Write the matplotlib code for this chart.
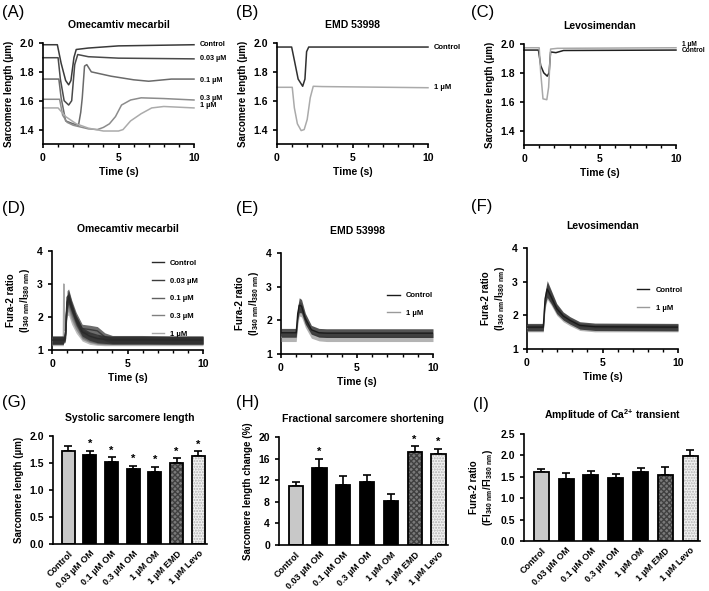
import numpy as np
import matplotlib
matplotlib.use("Agg")
import matplotlib.pyplot as plt
from matplotlib.ticker import MultipleLocator, FormatStrFormatter

plt.rcParams['font.family'] = ['Liberation Sans', 'DejaVu Sans']
plt.rcParams['font.weight'] = 'bold'
plt.rcParams['axes.labelweight'] = 'bold'
plt.rcParams['axes.titleweight'] = 'bold'
plt.rcParams['mathtext.default'] = 'regular'
plt.rcParams['axes.linewidth'] = 1.2
plt.rcParams['xtick.major.width'] = 1.2
plt.rcParams['ytick.major.width'] = 1.2
plt.rcParams['xtick.minor.width'] = 1.0
plt.rcParams['xtick.major.size'] = 3
plt.rcParams['ytick.major.size'] = 3
plt.rcParams['xtick.minor.size'] = 2
plt.rcParams['xtick.labelsize'] = 7.5
plt.rcParams['ytick.labelsize'] = 7.5

# ---- sarcomere length traces (A, B, C) ----
# Omecamtiv mecarbil
t_om_ctrl = [0, 0.95, 1.2, 1.5, 1.7, 1.85, 2.05, 2.2, 3, 5, 10]
y_om_ctrl = [1.988, 1.988, 1.86, 1.74, 1.71, 1.74, 1.90, 1.955, 1.965, 1.98, 1.988]
t_om_003 = [0, 1.0, 1.15, 1.4, 1.7, 1.9, 2.1, 2.3, 3, 5, 10]
y_om_003 = [1.898, 1.898, 1.75, 1.6, 1.57, 1.6, 1.85, 1.92, 1.905, 1.895, 1.89]
t_om_01 = [0, 1.05, 1.2, 1.5, 2.0, 2.35, 2.5, 2.6, 2.75, 2.9, 3.2, 4.5, 6, 7, 8.5, 10]
y_om_01 = [1.75, 1.75, 1.62, 1.46, 1.44, 1.43, 1.52, 1.62, 1.84, 1.85, 1.80, 1.77, 1.745, 1.735, 1.75, 1.75]
t_om_03 = [0, 1.1, 1.3, 1.6, 2.0, 3.0, 3.6, 4.0, 4.4, 4.8, 5.2, 5.8, 6.5, 8, 10]
y_om_03 = [1.61, 1.61, 1.50, 1.45, 1.43, 1.405, 1.40, 1.415, 1.44, 1.49, 1.57, 1.605, 1.62, 1.615, 1.605]
t_om_1 = [0, 1.0, 1.5, 2.2, 3.0, 4.0, 5.0, 5.3, 5.8, 6.5, 7.2, 8, 10]
y_om_1 = [1.55, 1.55, 1.49, 1.44, 1.41, 1.39, 1.39, 1.40, 1.46, 1.51, 1.55, 1.56, 1.55]
om_labels = ['Control', '0.03 µM', '0.1 µM', '0.3 µM', '1 µM']
om_label_y = [1.99, 1.89, 1.74, 1.615, 1.565]

# EMD 53998
t_emd_ctrl = [0, 0.97, 1.15, 1.4, 1.7, 1.85, 1.96, 2.1, 10]
y_emd_ctrl = [1.972, 1.972, 1.88, 1.75, 1.70, 1.75, 1.94, 1.972, 1.972]
t_emd_1 = [0, 1.01, 1.15, 1.35, 1.6, 1.8, 2.0, 2.2, 2.4, 3, 10]
y_emd_1 = [1.693, 1.693, 1.55, 1.44, 1.393, 1.40, 1.47, 1.62, 1.70, 1.698, 1.69]
emd_labels = ['Control', '1 µM']
emd_label_y = [1.972, 1.693]

# Levosimendan
t_lev_ctrl = [0, 0.95, 1.1, 1.3, 1.53, 1.65, 1.75, 2.1, 2.6, 10]
y_lev_ctrl = [1.958, 1.958, 1.85, 1.80, 1.777, 1.80, 1.945, 1.94, 1.955, 1.958]
t_lev_1 = [0, 1.0, 1.1, 1.25, 1.5, 1.62, 1.75, 2.2, 10]
y_lev_1 = [1.974, 1.974, 1.80, 1.62, 1.614, 1.70, 1.965, 1.97, 1.974]
lev_labels = ['1 µM', 'Control']
lev_label_y = [1.997, 1.958]

# ---- Fura-2 traces (D, E, F): mean level and noise half-width ----
t_fd = [0, 0.75, 0.78, 0.82, 0.9, 1.0, 1.1, 1.3, 1.6, 2.0, 2.5, 3.0, 3.5, 4, 6, 8, 10]
fd_ctrl = [1.3, 1.3, 1.3, 1.3, 1.5, 2.45, 2.6, 2.3, 1.9, 1.55, 1.42, 1.35, 1.32, 1.3, 1.3, 1.3, 1.3]
fd_003 = [1.3, 1.3, 1.3, 1.3, 1.6, 2.6, 2.65, 2.35, 2.0, 1.65, 1.62, 1.58, 1.4, 1.32, 1.32, 1.3, 1.3]
fd_01 = [1.3, 1.3, 1.3, 1.3, 1.45, 2.4, 2.5, 2.2, 1.85, 1.5, 1.38, 1.33, 1.3, 1.3, 1.3, 1.3, 1.3]
fd_03 = [1.28, 1.28, 1.28, 1.3, 1.5, 2.3, 2.4, 2.1, 1.75, 1.45, 1.35, 1.3, 1.28, 1.28, 1.28, 1.28, 1.28]
fd_1 = [1.25, 1.25, 3.0, 1.6, 2.0, 2.25, 2.25, 1.95, 1.65, 1.4, 1.3, 1.27, 1.25, 1.25, 1.25, 1.25, 1.25]
fd_noise = [0.12, 0.12, 0.02, 0.1, 0.15, 0.2, 0.2, 0.17, 0.14, 0.13, 0.13, 0.13, 0.12, 0.12, 0.12, 0.12, 0.12]
fd_labels = ['Control', '0.03 µM', '0.1 µM', '0.3 µM', '1 µM']

t_fe = [0, 1.0, 1.1, 1.2, 1.35, 1.6, 2.0, 2.5, 3, 10]
fe_ctrl = [1.63, 1.63, 2.2, 2.45, 2.42, 2.05, 1.72, 1.63, 1.62, 1.62]
fe_1 = [1.5, 1.5, 2.05, 2.35, 2.3, 1.95, 1.6, 1.52, 1.5, 1.5]
fe_noise = [0.13, 0.13, 0.2, 0.22, 0.2, 0.16, 0.13, 0.13, 0.13, 0.13]
fe_labels = ['Control', '1 µM']

t_ff = [0, 1.08, 1.2, 1.34, 1.6, 1.97, 2.4, 2.85, 3.5, 4.5, 10]
ff_ctrl = [1.65, 1.65, 2.5, 2.78, 2.55, 2.2, 1.98, 1.85, 1.7, 1.66, 1.65]
ff_1 = [1.62, 1.62, 2.4, 2.72, 2.5, 2.15, 1.93, 1.8, 1.66, 1.62, 1.62]
ff_noise = [0.11, 0.11, 0.2, 0.25, 0.2, 0.15, 0.12, 0.11, 0.11, 0.11, 0.11]
ff_labels = ['Control', '1 µM']

# ---- summary bars (G, H, I) ----
groups = ['Control', '0.03 µM OM', '0.1 µM OM', '0.3 µM OM', '1 µM OM', '1 µM EMD', '1 µM Levo']
sys_len = [1.73, 1.64, 1.52, 1.38, 1.34, 1.50, 1.63]
sys_err = [0.09, 0.09, 0.09, 0.07, 0.09, 0.09, 0.09]
sys_star = [False, True, True, True, True, True, True]
frac_short = [11.0, 14.3, 11.1, 11.6, 8.1, 17.2, 16.9]
frac_err = [0.7, 1.7, 1.6, 1.4, 1.3, 1.1, 0.9]
frac_star = [False, True, False, False, False, True, True]
ca_amp = [1.61, 1.44, 1.55, 1.48, 1.61, 1.55, 1.99]
ca_err = [0.07, 0.15, 0.09, 0.09, 0.09, 0.17, 0.13]
ca_star = [False] * 7

W, H = 709, 591
fig = plt.figure(figsize=(W / 100, H / 100), dpi=100)


def px_axes(x0, y0, x1, y1):
    # axes from pixel box (left, top, right, bottom)
    return fig.add_axes([x0 / W, 1 - y1 / H, (x1 - x0) / W, (y1 - y0) / H])


def style_time_axis(ax):
    ax.spines['top'].set_visible(False)
    ax.spines['right'].set_visible(False)
    ax.set_xlim(0, 10)
    ax.set_xticks([0, 5, 10])
    ax.xaxis.set_minor_locator(MultipleLocator(1))
    ax.set_xlabel('Time (s)', fontsize=7.5, labelpad=3)


def sarc_panel(ax, traces, colors, labels, label_y, title, lab_size=5.5):
    for (t, y), c in zip(traces, colors):
        ax.plot(t, y, color=c, lw=1.1, clip_on=False)
    for lab, yy in zip(labels, label_y):
        ax.text(10.4, yy, lab, fontsize=lab_size, va='center', ha='left')
    style_time_axis(ax)
    ax.set_ylim(1.3, 2.0)
    ax.set_yticks([1.4, 1.6, 1.8, 2.0])
    ax.yaxis.set_major_formatter(FormatStrFormatter('%.1f'))
    ax.set_ylabel('Sarcomere length (µm)', fontsize=7)
    ax.set_title(title, fontsize=7.5, pad=11)


def fura_panel(ax, t, means, noise, colors, labels, title, leg_x, leg_y):
    n = len(means)
    for i in reversed(range(n)):
        m = np.array(means[i])
        s = np.array(noise)
        ax.fill_between(t, m - s, m + s, color=colors[i], lw=0, alpha=0.75, zorder=2 + n - i)
        ax.plot(t, m, color=colors[i], lw=1.0, label=labels[i], zorder=2 + n - i)
    style_time_axis(ax)
    ax.set_ylim(1, 4)
    ax.set_yticks([1, 2, 3, 4])
    ax.set_ylabel('Fura-2 ratio\n(I$_{340\\ nm}$/I$_{380\\ nm}$)', fontsize=7)
    ax.set_title(title, fontsize=7.5, pad=14)
    h, l = ax.get_legend_handles_labels()
    ax.legend(h[::-1], l[::-1], frameon=False, fontsize=5.5, loc='center left',
              bbox_to_anchor=(leg_x, leg_y), handlelength=1.6, labelspacing=1.35,
              borderaxespad=0, borderpad=0)


def bar_panel(ax, vals, errs, stars, ylim, step, fmt, ylabel, title):
    x = np.arange(len(vals))
    face = ['#c8c8c8', 'black', 'black', 'black', 'black', '#7a7a7a', '#f2f2f2']
    hatch = [None, None, None, None, None, 'xxxxxx', '......']
    hcol = [None, None, None, None, None, '#404040', '#b0b0b0']
    for i in x:
        ax.bar(x[i], vals[i], width=0.6, color=face[i], hatch=hatch[i],
               edgecolor=hcol[i] if hatch[i] else face[i], lw=0, zorder=2)
    ax.bar(x, vals, width=0.6, fill=False, edgecolor='black', lw=1.3, zorder=3)
    ax.errorbar(x, vals, yerr=[[0] * len(vals), errs], fmt='none', ecolor='black',
                elinewidth=1.2, capsize=3, capthick=1.2, zorder=1)
    for i in x:
        if stars[i]:
            ax.text(x[i], vals[i] + errs[i] + ylim * 0.015, '*', ha='center',
                    va='bottom', fontsize=8)
    ax.spines['top'].set_visible(False)
    ax.spines['right'].set_visible(False)
    ax.set_xlim(-0.7, len(vals) - 0.6)
    ax.set_ylim(0, ylim)
    ax.yaxis.set_major_locator(MultipleLocator(step))
    ax.yaxis.set_major_formatter(FormatStrFormatter(fmt))
    ax.tick_params(axis='x', length=0)
    ax.set_xticks(x)
    ax.set_xticklabels(groups, rotation=45, ha='right', rotation_mode='anchor', fontsize=6.5)
    ax.set_ylabel(ylabel, fontsize=7)
    ax.set_title(title, fontsize=7.5, pad=11)


# Row 1
axA = px_axes(43, 43, 194, 144)
sarc_panel(axA, [(t_om_ctrl, y_om_ctrl), (t_om_003, y_om_003), (t_om_01, y_om_01),
                 (t_om_03, y_om_03), (t_om_1, y_om_1)],
           ['#3a3a3a', '#4a4a4a', '#6a6a6a', '#8c8c8c', '#ababab'],
           om_labels, om_label_y, 'Omecamtiv mecarbil', lab_size=5.2)

axB = px_axes(277, 43, 428, 144)
sarc_panel(axB, [(t_emd_ctrl, y_emd_ctrl), (t_emd_1, y_emd_1)],
           ['#303030', '#aaaaaa'], emd_labels, emd_label_y, 'EMD 53998')

axC = px_axes(524, 44, 676, 145)
sarc_panel(axC, [(t_lev_ctrl, y_lev_ctrl), (t_lev_1, y_lev_1)],
           ['#202020', '#a8a8a8'], lev_labels, lev_label_y, 'Levosimendan', lab_size=4.8)

# Row 2
axD = px_axes(52, 251, 203, 350)
fura_panel(axD, t_fd, [fd_ctrl, fd_003, fd_01, fd_03, fd_1], fd_noise,
           ['#2a2a2a', '#3c3c3c', '#606060', '#808080', '#a8a8a8'],
           fd_labels, 'Omecamtiv mecarbil', 0.66, 0.52)

axE = px_axes(281, 253, 433, 354)
fura_panel(axE, t_fe, [fe_ctrl, fe_1], fe_noise, ['#1a1a1a', '#9a9a9a'],
           fe_labels, 'EMD 53998', 0.70, 0.49)

axF = px_axes(527, 248, 678, 349)
fura_panel(axF, t_ff, [ff_ctrl, ff_1], ff_noise, ['#1a1a1a', '#9a9a9a'],
           ff_labels, 'Levosimendan', 0.73, 0.495)

# Row 3
axG = px_axes(53, 436, 207, 544)
bar_panel(axG, sys_len, sys_err, sys_star, 2.0, 0.5, '%.1f',
          'Sarcomere length (µm)', 'Systolic sarcomere length')

axH = px_axes(279, 437, 448, 545)
bar_panel(axH, frac_short, frac_err, frac_star, 20, 4, '%d',
          'Sarcomere length change (%)', 'Fractional sarcomere shortening')

axI = px_axes(524, 434, 700, 541)
bar_panel(axI, ca_amp, ca_err, ca_star, 2.5, 0.5, '%.1f',
          'Fura-2 ratio\n(FI$_{340\\ nm}$/FI$_{380\\ nm}$)',
          'Amplitude of Ca$^{2{+}}$ transient')

# panel letters
letters = ['(A)', '(B)', '(C)', '(D)', '(E)', '(F)', '(G)', '(H)', '(I)']
letter_pos = [(2, 12), (236, 12), (471, 12), (2, 208), (236, 208), (471, 206),
              (2, 402), (236, 402), (473, 404)]
for lab, (px, py) in zip(letters, letter_pos):
    fig.text(px / W, 1 - py / H, lab, fontsize=12, fontweight='normal', va='center', ha='left')

fig.savefig('out.png', dpi=100)
